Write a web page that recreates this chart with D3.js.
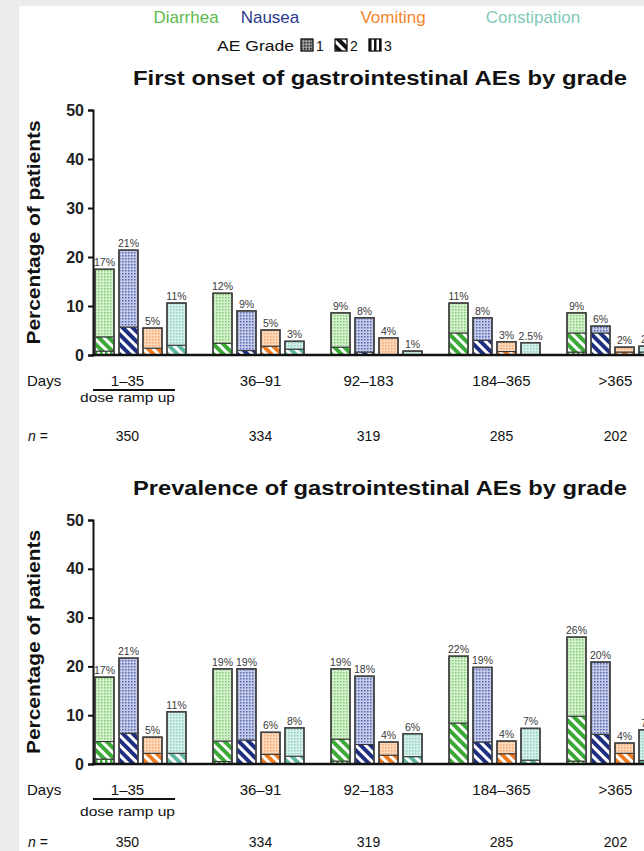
<!DOCTYPE html>
<html>
<head>
<meta charset="utf-8">
<title>GI AEs by grade</title>
<script src="https://d3js.org/d3.v7.min.js"></script>
<style>
  body { margin: 0; background: #ececec; }
  svg { display: block; font-family: "Liberation Sans", Arial, sans-serif; }
</style>
</head>
<body>
<svg id="chart" width="644" height="851"></svg>
<script>
// categories
const days = ["1–35", "36–91", "92–183", "184–365", ">365"];
const nCounts = ["350", "334", "319", "285", "202"];
const aeTypes = ["Diarrhea", "Nausea", "Vomiting", "Constipation"];
const grades = ["1", "2", "3"];
const yTicks = [0, 10, 20, 30, 40, 50];

// first onset, % of patients per [period][AE type]
const onsetG1 = [[13.8, 15.7, 4.1, 8.6], [10.2, 8.1, 3.3, 1.6], [7.0, 7.0, 3.5, 0.8], [6.1, 4.6, 2.0, 2.5], [4.1, 1.4, 1.0, 1.2]];
const onsetG2 = [[2.9, 5.7, 1.4, 2.0], [2.4, 0.9, 1.8, 1.2], [1.6, 0.6, 0, 0], [4.5, 3.0, 0.7, 0], [3.9, 4.5, 0.6, 0.6]];
const onsetG3 = [[0.8, 0, 0, 0], [0, 0, 0, 0], [0, 0, 0, 0], [0, 0, 0, 0], [0.6, 0, 0, 0]];
const onsetLabels = [["17%", "21%", "5%", "11%"], ["12%", "9%", "5%", "3%"], ["9%", "8%", "4%", "1%"], ["11%", "8%", "3%", "2.5%"], ["9%", "6%", "2%", "2%"]];

// prevalence
const prevG1 = [[13.2, 15.4, 3.3, 8.5], [14.8, 14.6, 4.5, 5.8], [14.4, 14.0, 2.7, 4.7], [13.7, 15.3, 2.6, 6.5], [16.2, 14.8, 2.1, 6.3]];
const prevG2 = [[3.6, 6.3, 2.2, 2.2], [4.2, 4.9, 2.0, 1.6], [4.5, 4.0, 1.8, 1.5], [8.4, 4.5, 2.1, 0.8], [9.2, 6.1, 2.2, 0.7]];
const prevG3 = [[1.0, 0, 0, 0], [0.5, 0, 0, 0], [0.6, 0, 0, 0], [0, 0, 0, 0], [0.6, 0, 0, 0]];
const prevLabels = [["17%", "21%", "5%", "11%"], ["19%", "19%", "6%", "8%"], ["19%", "18%", "4%", "6%"], ["22%", "19%", "4%", "7%"], ["26%", "20%", "4%", "7%"]];

// styling
const textColor = { Diarrhea: "#5cba4c", Nausea: "#2a3a8c", Vomiting: "#f5842c", Constipation: "#7fc9b9" };
const strong = { Diarrhea: "#3aa935", Nausea: "#1f2f80", Vomiting: "#ef7a1e", Constipation: "#5db7a5" };
const light = { Diarrhea: "#d6f0cf", Nausea: "#c3cbe8", Vomiting: "#fcd9bd", Constipation: "#d5efea" };
const dotc = { Diarrhea: "#7ccd6e", Nausea: "#5565b0", Vomiting: "#f6a86a", Constipation: "#8fd0c3" };
const legendCx = [186, 270, 393, 533];
const dayLabelDx = [-13, 2, -8, 7, 3];

const svg = d3.select("#chart");
svg.append("rect").attr("x", 19).attr("y", 6).attr("width", 630).attr("height", 851).attr("fill", "#fff");

const defs = svg.append("defs");
function makePatterns(key, c1, c2, bg) {
  const p1 = defs.append("pattern").attr("id", `p1-${key}`).attr("patternUnits", "userSpaceOnUse")
    .attr("width", 3).attr("height", 3);
  p1.append("rect").attr("width", 3).attr("height", 3).attr("fill", bg);
  p1.append("rect").attr("width", 1.5).attr("height", 1.5).attr("fill", c2);
  const p2 = defs.append("pattern").attr("id", `p2-${key}`).attr("patternUnits", "userSpaceOnUse")
    .attr("width", 7).attr("height", 7).attr("patternTransform", "rotate(-45)");
  p2.append("rect").attr("width", 7).attr("height", 7).attr("fill", "#fff");
  p2.append("rect").attr("width", 4).attr("height", 7).attr("fill", c1);
  const p3 = defs.append("pattern").attr("id", `p3-${key}`).attr("patternUnits", "userSpaceOnUse")
    .attr("width", 5).attr("height", 5);
  p3.append("rect").attr("width", 5).attr("height", 5).attr("fill", "#fff");
  p3.append("rect").attr("width", 2.5).attr("height", 5).attr("fill", c1);
}
aeTypes.forEach(t => makePatterns(t, strong[t], dotc[t], light[t]));
makePatterns("legend", "#111", "#222", "#999");

// top legend
svg.selectAll(".aeLeg").data(aeTypes).join("text")
  .attr("x", (d, i) => legendCx[i]).attr("y", 23)
  .attr("text-anchor", "middle").attr("font-size", 17)
  .attr("fill", d => textColor[d]).text(d => d);

svg.append("text").attr("x", 217).attr("y", 51)
  .attr("font-size", 14).attr("textLength", 77).attr("lengthAdjust", "spacingAndGlyphs")
  .attr("fill", "#111").text("AE Grade");
const gradeX = d3.scalePoint().domain(grades).range([301, 369]);
const gl = svg.selectAll(".gLeg").data(grades).join("g")
  .attr("transform", d => `translate(${gradeX(d)},39)`);
gl.append("rect").attr("width", 12).attr("height", 12)
  .attr("fill", d => `url(#p${d}-legend)`).attr("stroke", "#111").attr("stroke-width", 1.3);
gl.append("text").attr("x", 15).attr("y", 12).attr("font-size", 14).attr("fill", "#111").text(d => d);

function drawPanel(opt) {
  const y = d3.scaleLinear().domain([0, 50]).range([opt.base, opt.top]);
  const x0 = d3.scaleBand().domain(days).range([95, 658]).paddingInner(0.229);
  const x1 = d3.scaleBand().domain(aeTypes).range([0, x0.bandwidth()]).paddingInner(0.208);
  const g = svg.append("g");

  g.append("text").attr("x", 133).attr("y", opt.top - 25)
    .attr("font-size", 20).attr("font-weight", "bold").attr("fill", "#111")
    .attr("textLength", 494).attr("lengthAdjust", "spacingAndGlyphs").text(opt.title);

  g.append("text")
    .attr("transform", `translate(40,${(opt.base + opt.top) / 2 + 112}) rotate(-90)`)
    .attr("font-size", 19).attr("font-weight", "bold")
    .attr("textLength", 224).attr("lengthAdjust", "spacingAndGlyphs")
    .attr("fill", "#111").text("Percentage of patients");

  // bars
  const rows = [];
  days.forEach((d, i) => aeTypes.forEach((t, j) => {
    const v3 = opt.g3[i][j], v2 = opt.g2[i][j], v1 = opt.g1[i][j];
    rows.push({ day: d, type: t, segs: [
      { grade: 3, y0: 0, y1: v3 },
      { grade: 2, y0: v3, y1: v3 + v2 },
      { grade: 1, y0: v3 + v2, y1: v3 + v2 + v1 }
    ], total: v1 + v2 + v3, label: opt.labels[i][j] });
  }));

  const bar = g.selectAll(".bar").data(rows).join("g")
    .attr("transform", d => `translate(${x0(d.day) + x1(d.type)},0)`);
  bar.selectAll("rect.seg").data(d => d.segs.filter(s => s.y1 > s.y0).map(s => ({ ...s, type: d.type })))
    .join("rect").attr("class", "seg")
    .attr("x", 0).attr("width", x1.bandwidth())
    .attr("y", s => y(s.y1)).attr("height", s => y(s.y0) - y(s.y1))
    .attr("fill", s => `url(#p${s.grade}-${s.type})`)
    .attr("stroke", "#333").attr("stroke-width", 1);
  bar.append("rect")
    .attr("x", 0).attr("width", x1.bandwidth())
    .attr("y", d => y(d.total)).attr("height", d => y(0) - y(d.total))
    .attr("fill", "none").attr("stroke", "#444").attr("stroke-width", 1.6);
  bar.append("text")
    .attr("x", x1.bandwidth() / 2).attr("y", d => y(d.total) - 3)
    .attr("text-anchor", "middle").attr("font-size", 10.5).attr("fill", "#3a3a3a")
    .text(d => d.label);

  // axes
  const ax = g.append("g").attr("transform", "translate(93,0)")
    .call(d3.axisLeft(y).tickValues(yTicks).tickSize(5).tickPadding(4));
  ax.select(".domain").attr("stroke", "#111").attr("stroke-width", 2);
  ax.selectAll(".tick line").attr("stroke", "#111").attr("stroke-width", 2);
  ax.selectAll(".tick text").attr("font-size", 16).attr("font-weight", "bold")
    .attr("fill", "#222").attr("font-family", "Liberation Sans, Arial, sans-serif");
  g.append("line").attr("x1", 92).attr("x2", 644).attr("y1", y(0)).attr("y2", y(0))
    .attr("stroke", "#111").attr("stroke-width", 2.5);

  // category labels
  g.append("text").attr("x", 27).attr("y", opt.base + 31).attr("font-size", 15)
    .attr("fill", "#111").text("Days");
  g.selectAll(".day").data(days).join("text")
    .attr("x", (d, i) => x0(d) + x0.bandwidth() / 2 + dayLabelDx[i]).attr("y", opt.base + 31)
    .attr("text-anchor", "middle").attr("font-size", 15).attr("fill", "#111").text(d => d);
  g.append("line").attr("x1", 93).attr("x2", 175).attr("y1", opt.base + 35).attr("y2", opt.base + 35)
    .attr("stroke", "#111").attr("stroke-width", 2);
  g.append("text").attr("x", 80).attr("y", opt.base + opt.doseDy)
    .attr("font-size", 13).attr("textLength", 95).attr("lengthAdjust", "spacingAndGlyphs")
    .attr("fill", "#111").text("dose ramp up");
  const nt = g.append("text").attr("x", 28).attr("y", opt.base + opt.nDy).attr("font-size", 14).attr("fill", "#111");
  nt.append("tspan").attr("font-style", "italic").text("n");
  nt.append("tspan").text(" =");
  g.selectAll(".nval").data(nCounts).join("text")
    .attr("x", (d, i) => x0(days[i]) + x0.bandwidth() / 2 + dayLabelDx[i]).attr("y", opt.base + opt.nDy)
    .attr("text-anchor", "middle").attr("font-size", 14).attr("fill", "#111").text(d => d);
}

drawPanel({ title: "First onset of gastrointestinal AEs by grade", top: 110, base: 355,
  g1: onsetG1, g2: onsetG2, g3: onsetG3, labels: onsetLabels, doseDy: 47, nDy: 86 });
drawPanel({ title: "Prevalence of gastrointestinal AEs by grade", top: 520, base: 764,
  g1: prevG1, g2: prevG2, g3: prevG3, labels: prevLabels, doseDy: 52, nDy: 83 });
</script>
</body>
</html>
